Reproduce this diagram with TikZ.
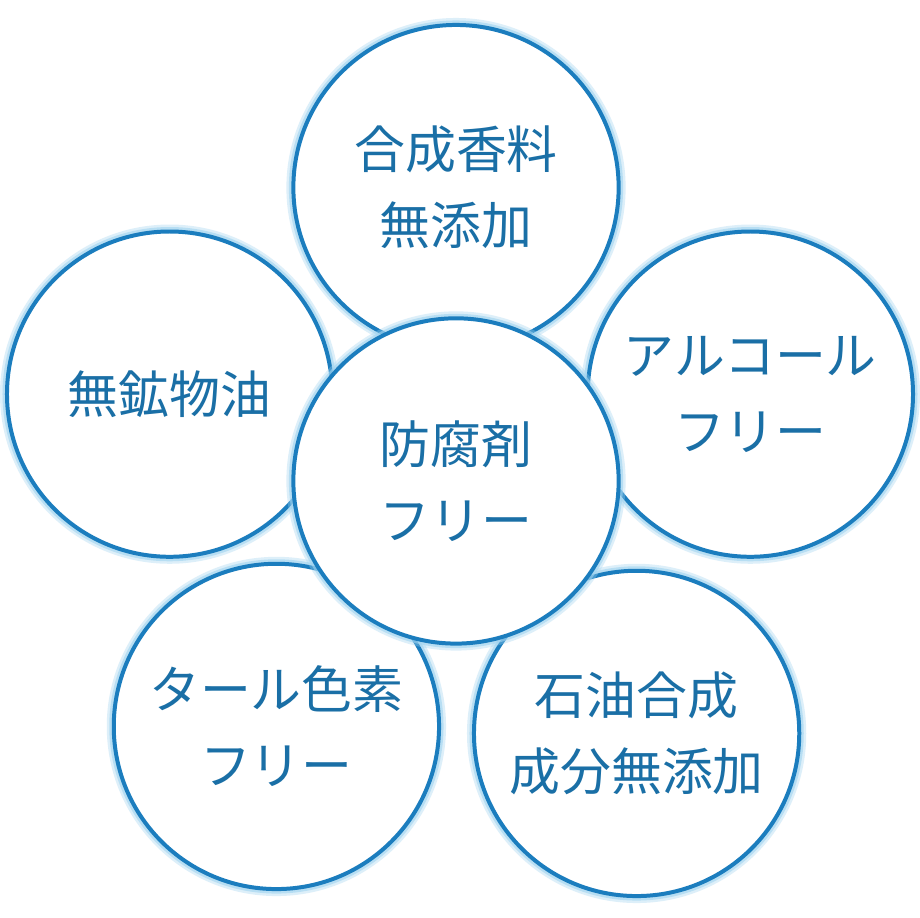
\documentclass[tikz,border=0pt]{standalone}
\usepackage{fontspec}
\newfontfamily\cjk{Noto Sans CJK JP}
\definecolor{ring}{HTML}{1B7DBE}
\definecolor{txt}{HTML}{1A6FA6}
\definecolor{glow}{HTML}{9FD3F0}
\begin{document}
\begin{tikzpicture}[x=1pt,y=-1pt,
  bub/.style={circle,minimum size=326pt,inner sep=0pt,fill=white,draw=ring,line width=4pt,
    text=txt,align=center,font=\cjk\fontsize{51}{76}\selectfont,
    preaction={draw=glow,line width=14pt,opacity=0.35},
    preaction={draw=glow,line width=9pt,opacity=0.6}}]
\fill[white] (0,0) rectangle (920,919);
\node[bub] (top) at (455,188) {合成香料\\無添加};
\node[bub] (left) at (168,395) {無鉱物油};
\node[bub] (right) at (750,395) {アルコール\\フリー};
\node[bub] (bl) at (275,728) {タール色素\\フリー};
\node[bub] (br) at (636,735) {石油合成\\成分無添加};
\node[bub] (mid) at (455,482) {防腐剤\\フリー};
\end{tikzpicture}
\end{document}
